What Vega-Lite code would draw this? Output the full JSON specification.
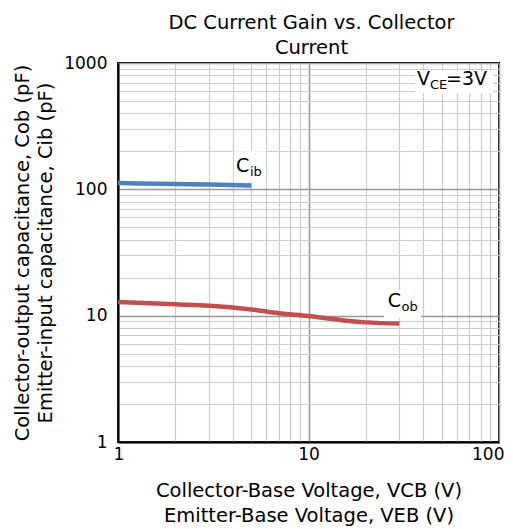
{
  "$schema": "https://vega.github.io/schema/vega-lite/v6.json",
  "width": 381,
  "height": 379,
  "autosize": "none",
  "padding": {"left": 118, "top": 63, "right": 14, "bottom": 87},
  "background": "white",
  "title": {
    "text": ["DC Current Gain vs. Collector", "Current"],
    "font": "DejaVu Sans",
    "fontSize": 19.5,
    "fontWeight": "normal",
    "lineHeight": 24.5,
    "color": "black",
    "frame": "group",
    "anchor": "middle",
    "offset": -4,
    "dx": 3
  },
  "config": {
    "view": {"stroke": "black", "strokeWidth": 2},
    "font": "DejaVu Sans"
  },
  "datasets": {
    "curves": [
      {"series": "Cib", "vce": 1, "cap": 112},
      {"series": "Cib", "vce": 2, "cap": 110},
      {"series": "Cib", "vce": 3, "cap": 109},
      {"series": "Cib", "vce": 5, "cap": 107},
      {"series": "Cob", "vce": 1, "cap": 12.8},
      {"series": "Cob", "vce": 2, "cap": 12.3},
      {"series": "Cob", "vce": 3, "cap": 12.0},
      {"series": "Cob", "vce": 5, "cap": 11.2},
      {"series": "Cob", "vce": 7, "cap": 10.45},
      {"series": "Cob", "vce": 10, "cap": 9.95},
      {"series": "Cob", "vce": 15, "cap": 9.2},
      {"series": "Cob", "vce": 20, "cap": 8.85},
      {"series": "Cob", "vce": 30, "cap": 8.65}
    ],
    "boxes": [
      {"x1": 4.06, "x2": 5.98, "y1": 117, "y2": 200},
      {"x1": 24.9, "x2": 39, "y1": 9.6, "y2": 16},
      {"x1": 36.2, "x2": 93, "y1": 580, "y2": 865}
    ],
    "labels": [
      {"kind": "main", "text": "C", "vce": 4.16, "cap": 137},
      {"kind": "sub", "text": "ib", "vce": 4.93, "cap": 128},
      {"kind": "main", "text": "C", "vce": 26.1, "cap": 11.7},
      {"kind": "sub", "text": "ob", "vce": 30.8, "cap": 10.9},
      {"kind": "main", "text": "V", "vce": 37.1, "cap": 671},
      {"kind": "sub", "text": "CE", "vce": 43.4, "cap": 623},
      {"kind": "main", "text": "=3V", "vce": 52.7, "cap": 671}
    ]
  },
  "layer": [
    {
      "data": {"name": "boxes"},
      "mark": {"type": "rect", "fill": "white", "stroke": null},
      "encoding": {
        "x": {
          "field": "x1", "type": "quantitative",
          "scale": {"type": "log", "domain": [1, 100]},
          "axis": {
            "values": [1, 2, 3, 4, 5, 6, 7, 8, 9, 10, 20, 30, 40, 50, 60, 70, 80, 90, 100],
            "format": "d",
            "labelExpr": "indexof([1, 10, 100], datum.value) >= 0 ? datum.label : ''",
            "grid": true,
            "gridColor": {"condition": {"test": "indexof([1, 10, 100], datum.value) >= 0", "value": "#999999"}, "value": "#cccccc"},
            "gridWidth": {"condition": {"test": "indexof([1, 10, 100], datum.value) >= 0", "value": 1.6}, "value": 1.2},
            "ticks": false,
            "domain": true,
            "domainColor": "black",
            "domainWidth": 2,
            "labelFont": "DejaVu Sans",
            "labelFontSize": 17,
            "labelColor": "black",
            "labelPadding": 4,
            "labelFlush": true,
            "labelFlushOffset": 5,
            "labelOverlap": false,
            "title": ["Collector-Base Voltage, VCB (V)", "Emitter-Base Voltage, VEB (V)"],
            "titleFont": "DejaVu Sans",
            "titleFontSize": 19.5,
            "titleFontWeight": "normal",
            "titleColor": "black",
            "titleLineHeight": 25,
            "titlePadding": 19
          }
        },
        "x2": {"field": "x2"},
        "y": {
          "field": "y1", "type": "quantitative",
          "scale": {"type": "log", "domain": [1, 1000]},
          "axis": {
            "values": [1, 2, 3, 4, 5, 6, 7, 8, 9, 10, 20, 30, 40, 50, 60, 70, 80, 90, 100, 200, 300, 400, 500, 600, 700, 800, 900, 1000],
            "format": "d",
            "labelExpr": "indexof([1, 10, 100, 1000], datum.value) >= 0 ? datum.label : ''",
            "grid": true,
            "gridColor": {"condition": {"test": "indexof([1, 10, 100, 1000], datum.value) >= 0", "value": "#999999"}, "value": "#cccccc"},
            "gridWidth": {"condition": {"test": "indexof([1, 10, 100, 1000], datum.value) >= 0", "value": 1.6}, "value": 1.2},
            "ticks": false,
            "domain": true,
            "domainColor": "black",
            "domainWidth": 2,
            "labelFont": "DejaVu Sans",
            "labelFontSize": 17,
            "labelColor": "black",
            "labelPadding": 11,
            "labelOverlap": false,
            "title": ["Collector-output capacitance, Cob (pF)", "Emitter-input capacitance, Cib (pF)"],
            "titleFont": "DejaVu Sans",
            "titleFontSize": 19.5,
            "titleFontWeight": "normal",
            "titleColor": "black",
            "titleLineHeight": 23,
            "titlePadding": 8
          }
        },
        "y2": {"field": "y2"}
      }
    },
    {
      "data": {"name": "curves"},
      "mark": {"type": "line", "strokeWidth": 4.5, "interpolate": "monotone", "strokeCap": "butt"},
      "encoding": {
        "x": {"field": "vce", "type": "quantitative"},
        "y": {"field": "cap", "type": "quantitative"},
        "color": {
          "field": "series", "type": "nominal",
          "scale": {"domain": ["Cib", "Cob"], "range": ["#4f81bd", "#c0504d"]},
          "legend": null
        }
      }
    },
    {
      "data": {"name": "labels"},
      "transform": [{"filter": "datum.kind == 'main'"}],
      "mark": {"type": "text", "align": "left", "baseline": "alphabetic", "fontSize": 19, "font": "DejaVu Sans", "color": "black"},
      "encoding": {
        "x": {"field": "vce", "type": "quantitative"},
        "y": {"field": "cap", "type": "quantitative"},
        "text": {"field": "text"}
      }
    },
    {
      "data": {"name": "labels"},
      "transform": [{"filter": "datum.kind == 'sub'"}],
      "mark": {"type": "text", "align": "left", "baseline": "alphabetic", "fontSize": 13, "font": "DejaVu Sans", "color": "black"},
      "encoding": {
        "x": {"field": "vce", "type": "quantitative"},
        "y": {"field": "cap", "type": "quantitative"},
        "text": {"field": "text"}
      }
    }
  ]
}
